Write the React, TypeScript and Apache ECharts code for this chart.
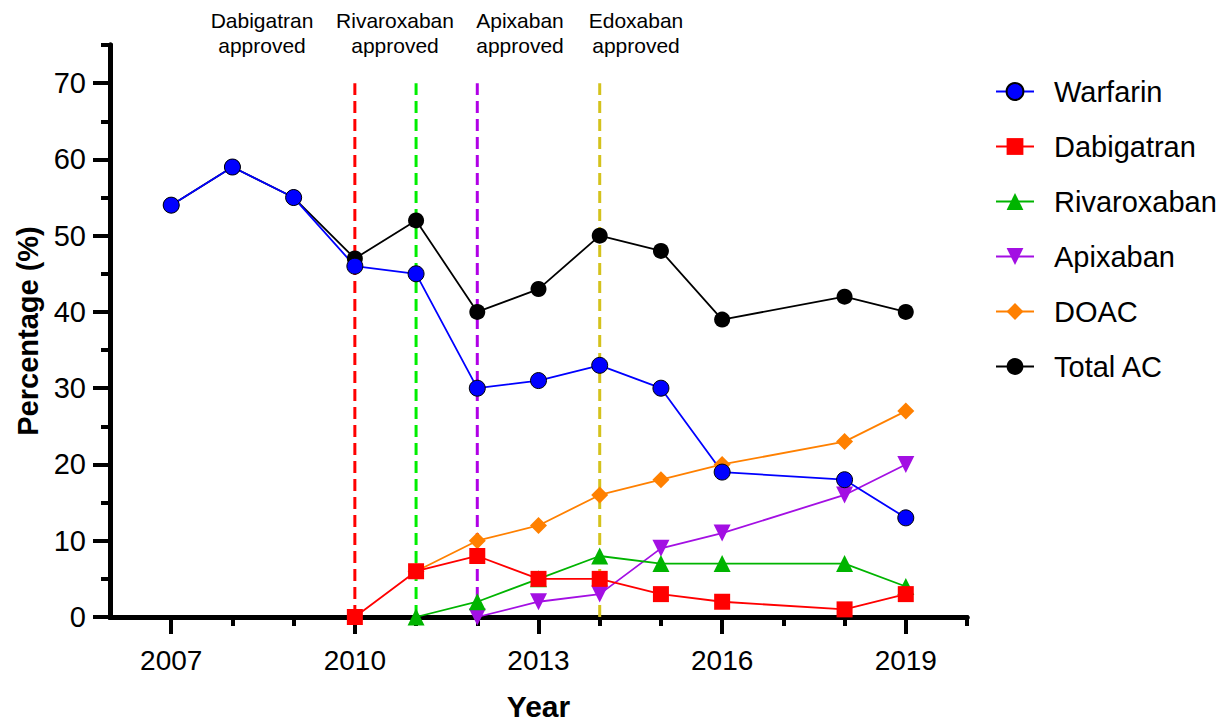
import React, { useEffect, useRef } from "react";
import * as echarts from "echarts";

const years = [2007, 2008, 2009, 2010, 2011, 2012, 2013, 2014, 2015, 2016, 2018, 2019];
const warfarin = [54, 59, 55, 46, 45, 30, 31, 33, 30, 19, 18, 13];
const totalAC = [54, 59, 55, 47, 52, 40, 43, 50, 48, 39, 42, 40];
const dabigatranYears = [2010, 2011, 2012, 2013, 2014, 2015, 2016, 2018, 2019];
const dabigatran = [0, 6, 8, 5, 5, 3, 2, 1, 3];
const rivaroxabanYears = [2011, 2012, 2013, 2014, 2015, 2016, 2018, 2019];
const rivaroxaban = [0, 2, 5, 8, 7, 7, 7, 4];
const apixabanYears = [2012, 2013, 2014, 2015, 2016, 2018, 2019];
const apixaban = [0, 2, 3, 9, 11, 16, 20];
const doacYears = [2011, 2012, 2013, 2014, 2015, 2016, 2018, 2019];
const doac = [6, 10, 12, 16, 18, 20, 23, 27];

const approvalYears = [2010, 2011, 2012, 2014];
const approvalColors = ["#ff0000", "#00ee00", "#b000e6", "#d4c21c"];
const approvalTop = 70;

const xMajorTicks = [2007, 2010, 2013, 2016, 2019];
const xMinorTicks = [2007, 2008, 2009, 2010, 2011, 2012, 2013, 2014, 2015, 2016, 2017, 2018, 2019, 2020];
const yMajorTicks = [0, 10, 20, 30, 40, 50, 60, 70];
const yMinorTicks = [0, 5, 10, 15, 20, 25, 30, 35, 40, 45, 50, 55, 60, 65, 70, 75];

const annotations = [
  { text: "Dabigatran\napproved", cx: 262 },
  { text: "Rivaroxaban\napproved", cx: 395 },
  { text: "Apixaban\napproved", cx: 520 },
  { text: "Edoxaban\napproved", cx: 636 },
];

const FONT = "'Liberation Sans', Arial, Helvetica, sans-serif";

const zip = (xs: number[], ys: number[]) => xs.map((x, i) => [x, ys[i]]);

export default function App() {
  const ref = useRef<HTMLDivElement>(null);
  useEffect(() => {
    if (!ref.current) return;
    const chart = echarts.init(ref.current, null, { renderer: "svg" });
    const axisLine = { show: true, lineStyle: { color: "#000", width: 5 } };
    const baseX = {
      type: "value" as const,
      min: 2006,
      max: 2020,
      position: "bottom" as const,
      splitLine: { show: false },
      axisLine,
    };
    const baseY = {
      type: "value" as const,
      min: 0,
      max: 75,
      position: "left" as const,
      splitLine: { show: false },
      axisLine,
    };
    const vlines = approvalYears.map((yr, i) => ({
      type: "line",
      name: "approval" + yr,
      data: [
        [yr, 0],
        [yr, approvalTop],
      ],
      symbol: "none",
      silent: true,
      lineStyle: { color: approvalColors[i], width: 3, type: [12, 6] },
      z: 1,
    }));
    const mk = (name: string, data: number[][], color: string, symbol: string, size: number, extra: any = {}) => ({
      type: "line",
      name,
      data,
      symbol,
      symbolSize: size,
      color,
      lineStyle: { color, width: 1.8 },
      itemStyle: { color, ...(extra.itemStyle || {}) },
      z: 3,
    });
    chart.setOption({
      animation: false,
      backgroundColor: "#fff",
      grid: { left: 110, right: 252, top: 45, bottom: 106, containLabel: false, outerBoundsMode: "none" },
      legend: {
        data: ["Warfarin", "Dabigatran", "Rivaroxaban", "Apixaban", "DOAC", "Total AC"],
        orient: "vertical",
        left: 990,
        top: 72,
        itemWidth: 38,
        itemHeight: 21,
        itemGap: 26,
        textStyle: { fontFamily: FONT, fontSize: 29, color: "#000", padding: [0, 0, 0, 15] },
      },
      xAxis: [
        {
          ...baseX,
          axisTick: { show: true, length: 9, lineStyle: { width: 4, color: "#000" }, customValues: xMinorTicks },
          axisLabel: { show: false },
        },
        {
          ...baseX,
          name: "Year",
          nameLocation: "middle",
          nameGap: 74,
          nameTextStyle: { fontFamily: FONT, fontSize: 30, fontWeight: "bold", color: "#000" },
          axisTick: { show: true, length: 17, lineStyle: { width: 4, color: "#000" }, customValues: xMajorTicks },
          axisLabel: {
            show: true,
            customValues: xMajorTicks,
            formatter: (v: number) => String(v),
            fontFamily: FONT,
            fontSize: 28,
            color: "#000",
            margin: 29,
          },
        },
      ],
      yAxis: [
        {
          ...baseY,
          axisTick: { show: true, length: 9, lineStyle: { width: 4, color: "#000" }, customValues: yMinorTicks },
          axisLabel: { show: false },
        },
        {
          ...baseY,
          name: "Percentage (%)",
          nameLocation: "middle",
          nameGap: 66,
          nameTextStyle: { fontFamily: FONT, fontSize: 29, fontWeight: "bold", color: "#000" },
          axisTick: { show: true, length: 17, lineStyle: { width: 4, color: "#000" }, customValues: yMajorTicks },
          axisLabel: {
            show: true,
            customValues: yMajorTicks,
            fontFamily: FONT,
            fontSize: 29,
            color: "#000",
            margin: 24,
          },
        },
      ],
      series: [
        ...vlines,
        mk("Total AC", zip(years, totalAC), "#000000", "circle", 16),
        mk("DOAC", zip(doacYears, doac), "#ff8000", "diamond", 17),
        mk("Apixaban", zip(apixabanYears, apixaban), "#a30fe3", "path://M0,0 L10,0 L5,9 Z", 17),
        mk("Rivaroxaban", zip(rivaroxabanYears, rivaroxaban), "#00b400", "triangle", 17),
        mk("Dabigatran", zip(dabigatranYears, dabigatran), "#ff0000", "rect", 16),
        mk("Warfarin", zip(years, warfarin), "#0000ff", "circle", 16, {
          itemStyle: { borderColor: "#000", borderWidth: 1 },
        }),
      ],
      graphic: annotations.map((a) => ({
        type: "text",
        x: a.cx,
        y: 8,
        style: {
          text: a.text,
          fontFamily: FONT,
          fontSize: 21,
          lineHeight: 25,
          fill: "#000",
          textAlign: "center",
          textVerticalAlign: "top",
        },
      })),
    });
    return () => chart.dispose();
  }, []);
  return (
    <div
      ref={ref}
      style={{ position: "absolute", left: 0, top: 0, width: 1219, height: 723 }}
    />
  );
}
